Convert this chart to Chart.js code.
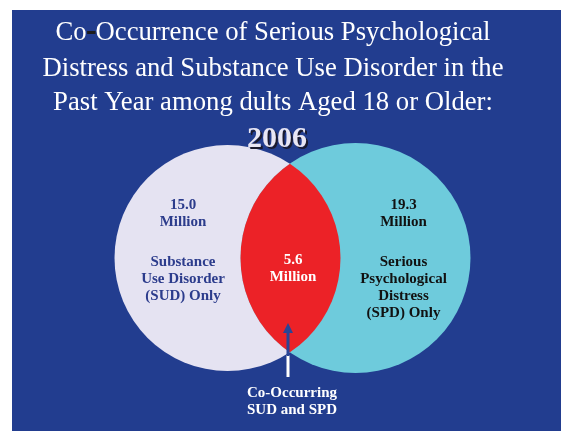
<!DOCTYPE html>
<html>
<head>
<meta charset="utf-8">
<script src="https://cdn.jsdelivr.net/npm/chart.js@4/dist/chart.umd.min.js"></script>
<style>
    body { margin: 0; background: #ffffff; }
    canvas { display: block; }
</style>
</head>
<body>
<canvas id="vennChart" width="561" height="431"></canvas>
<script>
// Chart data
const titleLines = [
    "Co-Occurrence of Serious Psychological",
    "Distress and Substance Use Disorder in the",
    "Past Year among dults Aged 18 or Older:"
];
const titleYear = "2006";
const setNames = ["SUD", "SPD"];
const onlyValues = [15.0, 19.3];      // millions, each set alone
const overlapValue = 5.6;             // millions, both
const onlyLabels = [
    ["Substance", "Use Disorder", "(SUD) Only"],
    ["Serious", "Psychological", "Distress", "(SPD) Only"]
];
const overlapLabel = ["Co-Occurring", "SUD and SPD"];

// Layout / styles
const W = 561, H = 431;
const circleRadii = [113, 115];
const vennMidX = 291.5;
const centerGap = 128;
const circleTop = 143;
const colors = {
    page: '#223d8f',
    left: '#e5e3f2',
    right: '#6ecbdc',
    overlap: '#ec2227',
    leftText: '#2c3c8c',
    rightText: '#111111',
    white: '#ffffff'
};
const serif = '"Liberation Serif", "Times New Roman", serif';

// Background panel
const backgroundPlugin = {
    id: 'background',
    beforeDraw(chart) {
        const ctx = chart.ctx;
        ctx.save();
        ctx.fillStyle = '#ffffff';
        ctx.fillRect(0, 0, W, H);
        ctx.fillStyle = colors.page;
        ctx.fillRect(12, 10, W - 12, H - 10);
        ctx.restore();
    }
};

// Red lens where the two circles overlap
const overlapPlugin = {
    id: 'overlap',
    afterDatasetsDraw(chart) {
        const pts = chart.getDatasetMeta(0).data;
        if (pts.length < 2) return;
        const ctx = chart.ctx;
        ctx.save();
        ctx.beginPath();
        ctx.arc(pts[0].x, pts[0].y, pts[0].options.radius, 0, Math.PI * 2);
        ctx.clip();
        ctx.beginPath();
        ctx.arc(pts[1].x, pts[1].y, pts[1].options.radius, 0, Math.PI * 2);
        ctx.fillStyle = colors.overlap;
        ctx.fill();
        ctx.restore();
    }
};

const drawLines = (ctx, lines, x, y, step) => {
    lines.forEach((line, i) => ctx.fillText(line, x, y + i * step));
};

// Titles, labels and arrow
const textPlugin = {
    id: 'texts',
    afterDraw(chart) {
        const ctx = chart.ctx;
        const pts = chart.getDatasetMeta(0).data;
        const a = pts[0], b = pts[1];
        const midX = (a.x + b.x) / 2;

        ctx.save();
        ctx.textBaseline = 'alphabetic';
        ctx.textAlign = 'center';

        // title
        ctx.font = '26.7px ' + serif;
        ctx.fillStyle = colors.white;
        const titleX = 273;
        const titleY = [40, 76, 110];
        // first line: hyphen is dark in the original
        const first = titleLines[0];
        const dash = first.indexOf('-');
        const partA = first.slice(0, dash), partB = first.slice(dash + 1);
        const wA = ctx.measureText(partA).width;
        const wD = ctx.measureText('-').width;
        const wB = ctx.measureText(partB).width;
        const sx = titleX - (wA + wD + wB) / 2;
        ctx.textAlign = 'left';
        ctx.fillText(partA, sx, titleY[0]);
        ctx.fillStyle = '#1c1c1c';
        ctx.fillRect(sx + wA + 0.5, titleY[0] - 9, wD - 0.5, 3);
        ctx.fillStyle = colors.white;
        ctx.fillText(partB, sx + wA + wD, titleY[0]);
        ctx.textAlign = 'center';
        ctx.fillText(titleLines[1], titleX, titleY[1]);
        ctx.fillText(titleLines[2], titleX, titleY[2]);

        // year with shadow
        ctx.font = 'bold 30px ' + serif;
        ctx.fillStyle = '#1a1a2e';
        ctx.fillText(titleYear, 279, 149);
        ctx.fillStyle = '#e8e6f4';
        ctx.fillText(titleYear, 277, 147);

        // set labels
        ctx.font = 'bold 15px ' + serif;
        ctx.textBaseline = 'middle';
        ctx.fillStyle = colors.leftText;
        const lx = a.x - 44.5;
        drawLines(ctx, [onlyValues[0].toFixed(1), 'Million'], lx, 205, 17);
        drawLines(ctx, onlyLabels[0], lx, 262, 17);

        ctx.fillStyle = colors.rightText;
        const rx = b.x + 48;
        drawLines(ctx, [onlyValues[1].toFixed(1), 'Million'], rx, 205, 17);
        drawLines(ctx, onlyLabels[1], rx, 262, 17);

        ctx.fillStyle = colors.white;
        drawLines(ctx, [overlapValue.toFixed(1), 'Million'], midX + 1.5, 260, 17);
        drawLines(ctx, overlapLabel, midX + 0.5, 393, 17);

        // arrow pointing into the overlap
        const ax = midX - 3.5;
        ctx.fillStyle = colors.white;
        ctx.fillRect(ax - 1.5, 355, 3, 22);
        ctx.fillStyle = '#2a4596';
        ctx.fillRect(ax - 1.5, 331, 3, 25);
        ctx.beginPath();
        ctx.moveTo(ax, 323);
        ctx.lineTo(ax + 5, 333);
        ctx.lineTo(ax - 5, 333);
        ctx.closePath();
        ctx.fill();

        ctx.restore();
    }
};

const ctx = document.getElementById('vennChart').getContext('2d');
const vennChart = new Chart(ctx, {
    type: 'bubble',
    data: {
        labels: setNames,
        datasets: [{
            label: 'Sets',
            data: setNames.map((name, i) => ({ x: i - 0.5, y: 0, r: circleRadii[i] })),
            backgroundColor: [colors.left, colors.right],
            borderWidth: 0,
            hoverBorderWidth: 0,
            hoverRadius: 0,
            clip: false
        }]
    },
    options: {
        responsive: false,
        animation: false,
        events: [],
        layout: {
            autoPadding: false,
            padding: { top: circleTop, bottom: H - circleTop - 230, left: 0, right: 0 }
        },
        plugins: {
            legend: { display: false },
            tooltip: { enabled: false }
        },
        scales: {
            x: { type: 'linear', display: false, min: -vennMidX / centerGap, max: (W - vennMidX) / centerGap },
            y: { type: 'linear', display: false, min: -1, max: 1 }
        }
    },
    plugins: [backgroundPlugin, overlapPlugin, textPlugin]
});
</script>
</body>
</html>
